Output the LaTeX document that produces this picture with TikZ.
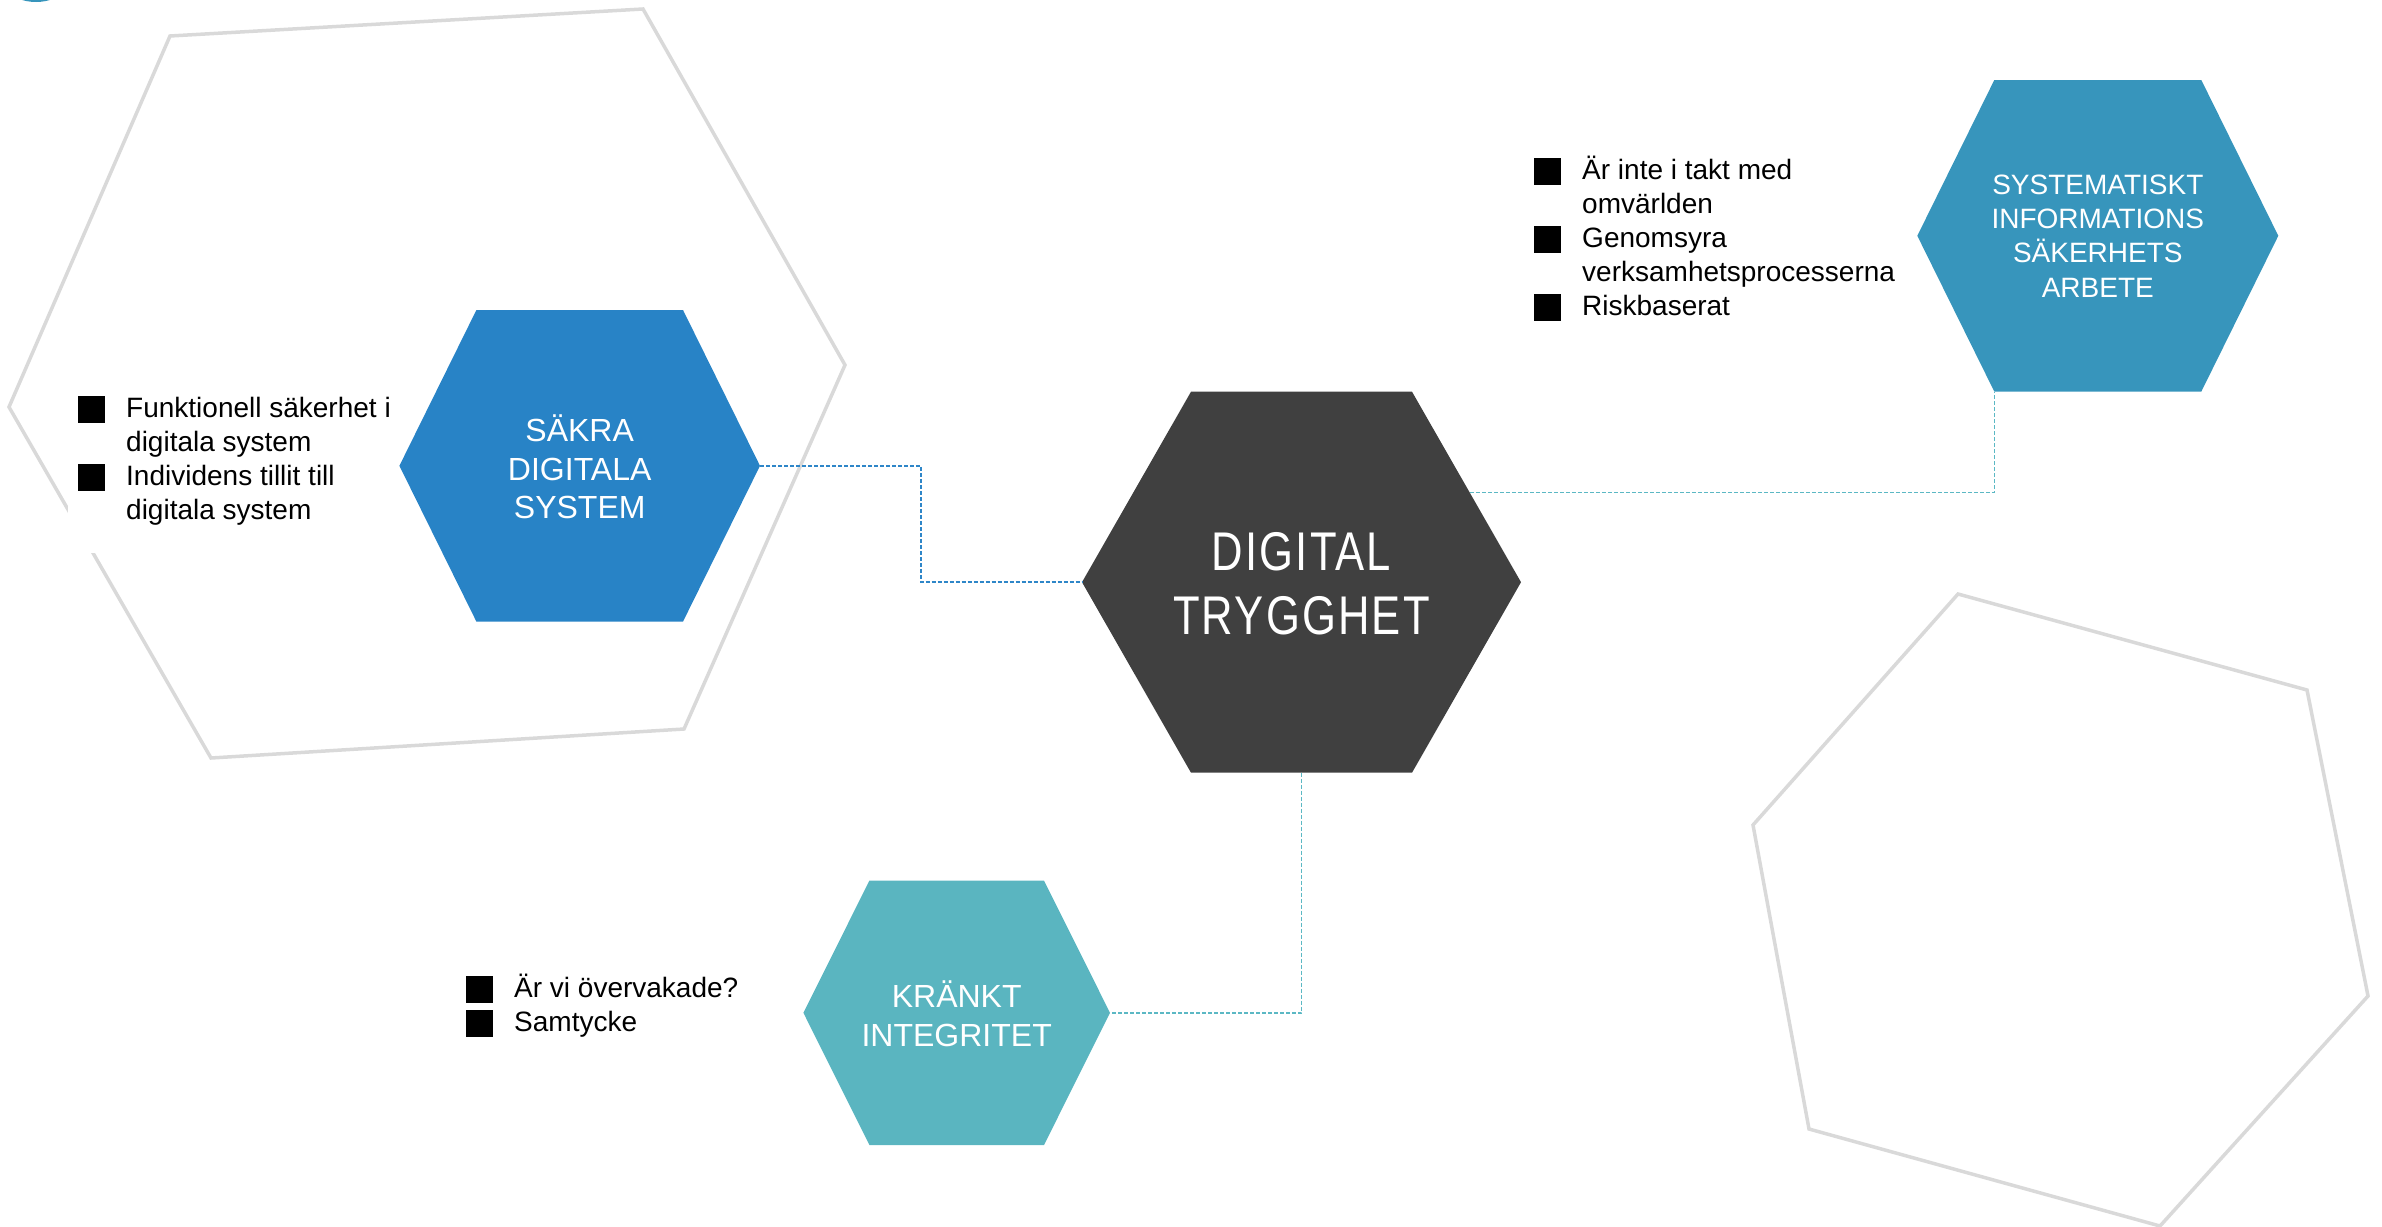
\documentclass[tikz,border=0pt]{standalone}
\usepackage{fontspec}
\setmainfont{Liberation Sans}
\newfontfamily\dinfont[FakeStretch=0.8,LetterSpace=4]{Liberation Sans}
\usetikzlibrary{calc,positioning}

\definecolor{sakraBlue}{HTML}{2883C6}
\definecolor{sysBlue}{HTML}{3795BC}
\definecolor{krankTeal}{HTML}{5AB5C0}
\definecolor{linkBlue}{HTML}{2E86C8}
\definecolor{linkTeal}{HTML}{5BB8C4}
\definecolor{tryggGray}{HTML}{404040}
\definecolor{frameGray}{HTML}{D9D9D9}

\newcommand{\bsq}{\rule[-6pt]{27pt}{27pt}}

\tikzset{
  pics/hexa/.style n args={3}{code={
    \path[pic actions] (-#1,0) -- (-#1+#3,-#2) -- (#1-#3,-#2) -- (#1,0)
      -- (#1-#3,#2) -- (-#1+#3,#2) -- cycle;
    \coordinate (-w) at (-#1,0);
    \coordinate (-e) at (#1,0);
    \coordinate (-n) at (0,-#2);
    \coordinate (-s) at (0,#2);
    \coordinate (-ne) at (#1-#3,-#2);
    \coordinate (-sw) at (-#1+#3,#2);
  }}
}

\begin{document}
\begin{tikzpicture}[x=1pt,y=-1pt,
    frame/.style={draw=frameGray,line width=3.5pt},
    hexlabel/.style={text=white,align=center,inner sep=0pt,
      font=\fontsize{32}{38.5}\selectfont},
    bullets/.style={inner sep=0pt,anchor=base west,
      font=\fontsize{28}{34}\selectfont},
    link/.style={line width=1.5pt,dash pattern=on 4pt off 2pt}]
  \useasboundingbox (0,0) rectangle (2382,1226);

  \begin{scope}
    \clip (0,0) rectangle (2382,1226);
    \fill[sysBlue] (36,-48) circle (50pt);
    \draw[frame] (170,36) -- (643,9) -- (845,365) -- (684,729)
      -- (211,758) -- (9,407) -- cycle;
    \draw[frame] (1958,594) -- (2307,690) -- (2368,996) -- (2160,1226)
      -- (1809,1129) -- (1753,825) -- cycle;
  \end{scope}

  % bullet lists
  \node[bullets,fill=white,inner xsep=10pt,inner ysep=24pt] (sakraList) at (68,417)
    {\begin{tabular}[t]{@{}l@{\hspace{21pt}}l@{}}
      \bsq & Funktionell säkerhet i\\
           & digitala system\\
      \bsq & Individens tillit till\\
           & digitala system
    \end{tabular}};
  \node[bullets] (sysList) at (1534,179)
    {\begin{tabular}[t]{@{}l@{\hspace{21pt}}l@{}}
      \bsq & Är inte i takt med\\
           & omvärlden\\
      \bsq & Genomsyra\\
           & verksamhetsprocesserna\\
      \bsq & Riskbaserat
    \end{tabular}};
  \node[bullets] (krankList) at (466,997)
    {\begin{tabular}[t]{@{}l@{\hspace{21pt}}l@{}}
      \bsq & Är vi övervakade?\\
      \bsq & Samtycke
    \end{tabular}};

  % hexagons
  \pic[fill=sakraBlue] (sakra) at (579.7,465.8) {hexa={180.3}{155.8}{77}};
  \pic[fill=tryggGray] (trygg) at (1301.5,582.2) {hexa={219.5}{190.5}{109}};
  \pic[fill=sysBlue] (sys) at (2097.8,235.8) {hexa={180.5}{155.8}{77}};
  \pic[fill=krankTeal] (krankt) at (956.7,1012.8) {hexa={153.3}{132.2}{66}};

  \node[hexlabel] (sakraText) at (sakra-n |- 0,467) {SÄKRA\\DIGITALA\\SYSTEM};
  \node[hexlabel,font={\dinfont\fontsize{54.5}{64}\selectfont}] (tryggText)
    at (1301.5,584) {DIGITAL\\TRYGGHET};
  \node[hexlabel,font=\fontsize{28}{34.3}\selectfont] (sysText) at (2097.8,236)
    {SYSTEMATISKT\\INFORMATIONS\\SÄKERHETS\\ARBETE};
  \node[hexlabel] (krankText) at (956.7,1014) {KRÄNKT\\INTEGRITET};

  % connectors
  \draw[link,linkBlue] (sakra-e) -- ++(161,0) |- (trygg-w);
  \draw[link,linkTeal] ($(trygg-ne)!0.53!(trygg-e)$) -| (sys-sw);
  \draw[link,linkTeal] (trygg-s) |- (krankt-e);
\end{tikzpicture}
\end{document}
